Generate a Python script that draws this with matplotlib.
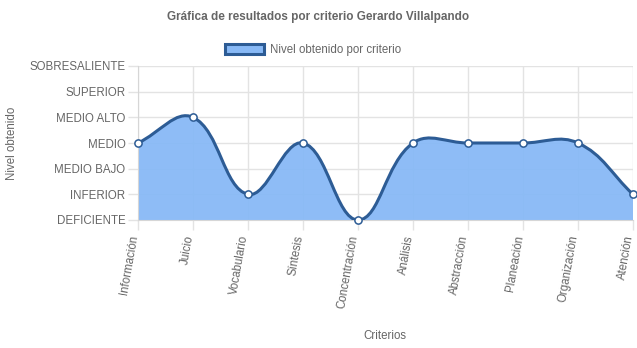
import matplotlib
matplotlib.use("Agg")
import matplotlib.pyplot as plt
import numpy as np
from matplotlib.path import Path
from matplotlib.patches import PathPatch, Patch

plt.rcParams['font.family'] = ['Liberation Sans', 'DejaVu Sans']

categories = ["Información", "Juicio", "Vocabulario", "Síntesis", "Concentración",
              "Análisis", "Abstracción", "Planeación", "Organización", "Atención"]
levels = ["DEFICIENTE", "INFERIOR", "MEDIO BAJO", "MEDIO", "MEDIO ALTO",
          "SUPERIOR", "SOBRESALIENTE"]
values = [3, 4, 1, 3, 0, 3, 3, 3, 3, 1]

TEXT = "#666666"
GRID = "#e3e3e3"
FILL = "#88b9f6"
LINE = "#2d5c95"

W, H = 637, 348
fig = plt.figure(figsize=(W / 100, H / 100), dpi=100)
L, R, T, B = 138, 633, 66, 220
ax = fig.add_axes([L / W, 1 - B / H, (R - L) / W, (B - T) / H])

x = np.arange(len(categories), dtype=float)
y = np.array(values, dtype=float)

# pixel scale for distance weighting of the spline (tension 0.4)
sx = (R - L) / (len(categories) - 1)
sy = (B - T) / (len(levels) - 1)
tension = 0.4
n = len(x)
cp_prev = np.zeros((n, 2))
cp_next = np.zeros((n, 2))
for i in range(n):
    cur = np.array([x[i], y[i]])
    prv = np.array([x[i - 1], y[i - 1]]) if i > 0 else cur
    nxt = np.array([x[i + 1], y[i + 1]]) if i < n - 1 else cur
    d01 = np.hypot((cur[0] - prv[0]) * sx, (cur[1] - prv[1]) * sy)
    d12 = np.hypot((nxt[0] - cur[0]) * sx, (nxt[1] - cur[1]) * sy)
    tot = d01 + d12
    s01 = d01 / tot if tot else 0
    s12 = d12 / tot if tot else 0
    cp_prev[i] = cur - tension * s01 * (nxt - prv)
    cp_next[i] = cur + tension * s12 * (nxt - prv)
    cp_prev[i][1] = np.clip(cp_prev[i][1], 0, 6)
    cp_next[i][1] = np.clip(cp_next[i][1], 0, 6)

verts = [(x[0], y[0])]
codes = [Path.MOVETO]
for i in range(n - 1):
    verts += [tuple(cp_next[i]), tuple(cp_prev[i + 1]), (x[i + 1], y[i + 1])]
    codes += [Path.CURVE4] * 3
curve = Path(verts, codes)

fill_verts = verts + [(x[-1], 0), (x[0], 0), (x[0], y[0])]
fill_codes = codes + [Path.LINETO, Path.LINETO, Path.CLOSEPOLY]
ax.add_patch(PathPatch(Path(fill_verts, fill_codes), facecolor=FILL, edgecolor='none',
                       alpha=0.95, zorder=2))
ax.add_patch(PathPatch(curve, facecolor='none', edgecolor=LINE, linewidth=2.2,
                       zorder=3, capstyle='round', joinstyle='round'))
ax.plot(x, y, linestyle='none', marker='o', markersize=5.2, markerfacecolor='white',
        markeredgecolor=LINE, markeredgewidth=1.1, zorder=4, clip_on=False)

ax.set_xlim(0, n - 1)
ax.set_ylim(0, len(levels) - 1)
ax.set_xticks(x)
ax.set_xticklabels([])
# rotated category labels, nudged slightly left of each tick
for xi, name in zip(x, categories):
    ax.annotate(name, xy=(xi, 0), xycoords=ax.get_xaxis_transform(),
                xytext=(-2.5, -11), textcoords='offset points',
                rotation=80, ha='right', va='center', rotation_mode='anchor',
                fontsize=8.3, color=TEXT, annotation_clip=False)
ax.set_yticks(range(len(levels)))
ax.set_yticklabels(levels, fontsize=8.3, color=TEXT)
ax.tick_params(axis='both', length=7, width=1, color=GRID, pad=2)
ax.grid(True, color=GRID, linewidth=1, zorder=0)
ax.set_axisbelow(True)
for s in ax.spines.values():
    s.set_visible(False)
ax.spines['left'].set_visible(True)
ax.spines['left'].set_color('#d6d6d6')
ax.spines['bottom'].set_visible(True)
ax.spines['bottom'].set_color('#d6d6d6')

fig.text(12 / W, 1 - 143 / H, "Nivel obtenido", rotation=90, ha='center', va='center',
         fontsize=8.3, color=TEXT)
fig.text(385 / W, 1 - 336 / H, "Criterios", ha='center', va='center',
         fontsize=8.3, color=TEXT)
fig.text(318 / W, 1 - 17 / H, "Gráfica de resultados por criterio Gerardo Villalpando",
         ha='center', va='center', fontsize=8.5, fontweight='bold', color=TEXT)

handle = Patch(facecolor=FILL, edgecolor=LINE, linewidth=2.2)
leg = fig.legend([handle], ["Nivel obtenido por criterio"], loc='center',
                 bbox_to_anchor=(313 / W, 1 - 50 / H), frameon=False,
                 fontsize=8.3, handlelength=3.4, handleheight=1.0,
                 handletextpad=0.5, borderpad=0)
for t in leg.get_texts():
    t.set_color(TEXT)

fig.savefig("out.png", dpi=100)
